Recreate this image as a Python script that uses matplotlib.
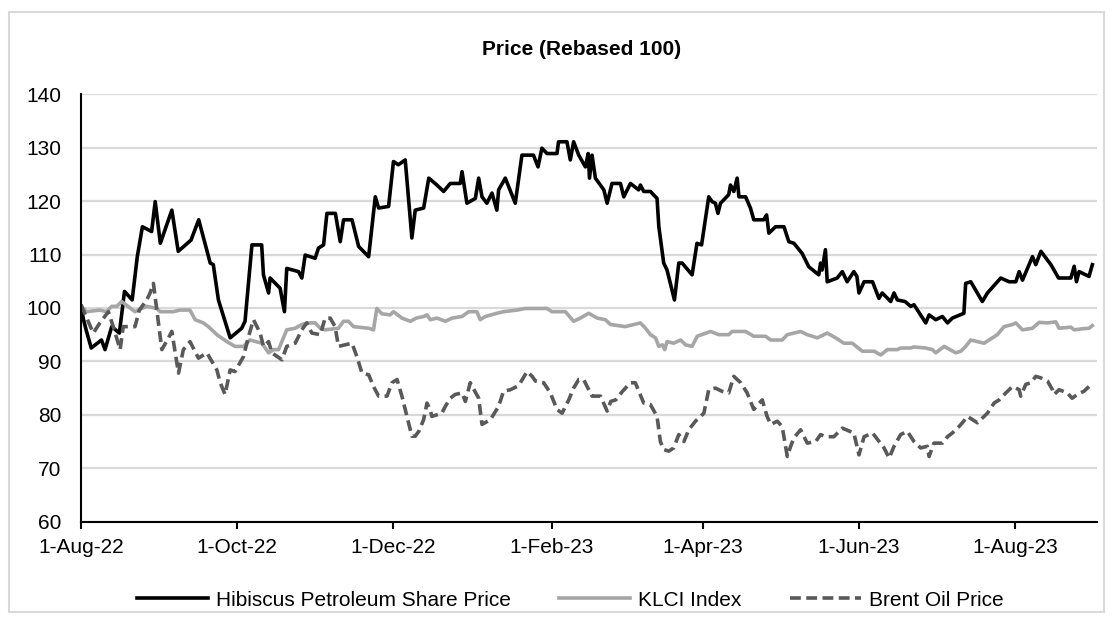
import pandas as pd
import matplotlib.pyplot as plt
import matplotlib.dates as mdates
from matplotlib.patches import Rectangle
from matplotlib.ticker import FuncFormatter

plt.rcParams["font.family"] = ["Liberation Sans", "DejaVu Sans"]

# -----------------------------
# Data (days since 1-Aug-22, rebased price)
# -----------------------------
start = pd.Timestamp("2022-08-01")

hib_days = [0, 1, 2, 4, 8, 9.4, 12, 15, 17, 20, 22, 24, 27.6, 29, 31, 35.5, 38, 43, 46,
            50.5, 51.7, 53.7, 58.3, 62.8, 64.1, 66.8, 70.6, 71.3, 73.3, 73.9, 77.8, 79.5,
            80.4, 85, 86.3, 87.6, 91.5, 92.8, 94.8, 96.1, 99.4, 101.3, 102.6, 105.9, 108.5,
            112.4, 115, 116.3, 120.2, 122.1, 124, 126.7, 129.3, 130.6, 133.9, 135.9, 139.1,
            141.7, 144.3, 148.2, 148.9, 150.8, 154.1, 155.4, 156.7, 158.6, 160.6, 162.5,
            163.2, 165.8, 169.7, 172.3, 176.8, 178.6, 180.1, 182.1, 186, 186.6, 189.9, 191.2,
            192.5, 194.5, 197.1, 198.2, 198.7, 199.7, 201, 204.3, 205.6, 207.5, 210.8, 212.1,
            214.7, 217.9, 218.6, 219.9, 222.5, 225.1, 225.8, 227.7, 229, 231.9, 233.6, 234.9,
            238.8, 240.7, 242.5, 245.3, 246.6, 247.9, 248.9, 249.9, 253.1, 253.8, 255.1,
            256.4, 257.1, 259.7, 261.6, 262.9, 266.8, 267.9, 268.8, 271.4, 274.7, 276.6,
            278.6, 281.8, 284.4, 288.3, 289, 289.6, 290.9, 291.6, 295.5, 297.5, 299.4, 302,
            303.2, 304, 306, 309.3, 311.8, 313.1, 316.4, 317.7, 319, 322, 324.2, 325.5, 330.1,
            331.4, 334, 336.6, 338.6, 340.5, 345, 345.7, 347.7, 352.2, 354.2, 359.4, 362.7,
            365.3, 366.6, 367.9, 370.5, 371.8, 373.1, 375.1, 379, 382, 386.8, 388.1, 389, 390,
            393.9, 395.2]
hib_vals = [100.3, 97.8, 95.9, 92.5, 94.0, 92.2, 96.5, 95.3, 103.1, 101.5, 109.6, 115.2, 114.3,
            119.9, 112.1, 118.3, 110.6, 112.7, 116.5, 108.4, 108.1, 101.5, 94.4, 96.2, 97.5,
            111.8, 111.8, 106.2, 102.8, 105.6, 103.7, 99.3, 107.4, 106.8, 105.6, 109.9, 109.3,
            111.2, 111.8, 117.7, 117.7, 112.4, 116.5, 116.5, 111.5, 109.6, 120.8, 118.7, 119.0,
            127.4, 126.8, 127.7, 113.1, 118.3, 118.7, 124.3, 123.0, 121.8, 123.3, 123.3, 125.5,
            119.6, 120.5, 124.3, 120.8, 119.6, 121.5, 118.3, 122.1, 124.3, 119.6, 128.6, 128.6,
            126.4, 129.9, 128.9, 128.9, 131.1, 131.1, 127.7, 131.1, 128.6, 126.4, 128.9, 124.3,
            128.6, 124.3, 122.1, 119.6, 123.3, 123.3, 120.8, 123.3, 122.1, 123.0, 121.8, 121.8,
            120.5, 115.2, 108.4, 107.1, 101.5, 108.4, 108.4, 106.2, 112.1, 111.8, 120.8, 119.9,
            119.6, 117.7, 119.6, 121.2, 123.0, 121.8, 124.3, 120.8, 120.8, 118.7, 116.5, 116.5,
            117.4, 114.0, 115.2, 115.2, 112.4, 112.1, 110.2, 107.7, 106.2, 108.4, 107.1, 110.9,
            104.9, 105.6, 106.8, 104.9, 106.8, 105.9, 102.8, 104.9, 104.9, 101.8, 102.8, 101.2,
            102.8, 101.5, 101.2, 100.3, 100.6, 97.2, 98.7, 97.8, 98.4, 97.2, 98.1, 99.0, 104.6,
            104.9, 101.2, 102.8, 105.6, 104.9, 104.9, 106.8, 105.2, 108.1, 109.6, 108.1, 110.6,
            108.1, 105.6, 105.6, 107.8, 104.9, 106.8, 105.9, 108.1]

klci_days = [0, 2.2, 7.4, 10, 12, 14, 15.9, 21.1, 23.7, 25.7, 29.6, 30.9, 36.1, 38.7, 42.6,
             44.6, 47.8, 49.8, 53.1, 57, 60.2, 63.5, 66, 70.7, 73.3, 75.2, 77.2, 80.4, 83.7,
             86.3, 88.2, 91.5, 93.5, 95.4, 100.6, 102.6, 104.5, 106.5, 112.4, 114.3, 115.6,
             117.6, 120.8, 122.1, 125.4, 128.7, 131, 133.9, 135.2, 136.5, 139.1, 142.4, 145,
             148.9, 151.5, 154.7, 156, 158, 162.5, 165.1, 170.4, 173.6, 182.1, 184, 189.3,
             192.5, 195.1, 198.4, 201.7, 204.9, 206.9, 212.7, 218.6, 220.6, 222.5, 224.5,
             225.8, 227.2, 228.1, 229, 231.6, 234.3, 236.2, 238.8, 240.8, 246, 249.2, 253.1,
             254.5, 259.7, 262.9, 267.5, 269.5, 274, 276, 278.6, 281.2, 283.8, 287.7, 291.6,
             294.9, 298.1, 301.4, 305.3, 309.9, 312.5, 315.1, 319, 320.3, 324.2, 325.5, 330.1,
             332.7, 334, 337.3, 341.8, 343.8, 345.7, 347.7, 350.3, 352.9, 356.2, 358.1, 360.7,
             364, 365.3, 367.9, 371.8, 374.4, 377.7, 380.9, 382.2, 386.8, 388.1, 391.3, 393.9,
             395.2]
klci_vals = [100.3, 99.3, 99.6, 99.3, 100.3, 100.3, 101.2, 99.3, 99.9, 100.3, 99.9, 99.3, 99.3,
             99.6, 99.6, 97.8, 97.2, 96.5, 95.0, 93.7, 92.8, 92.8, 94.0, 93.4, 91.6, 92.2, 92.2,
             95.9, 96.2, 96.9, 97.2, 97.2, 96.2, 95.9, 96.2, 97.5, 97.5, 96.5, 96.2, 95.9, 99.9,
             98.9, 98.7, 99.3, 98.1, 97.5, 98.1, 98.4, 98.7, 97.8, 98.1, 97.5, 98.1, 98.4, 99.3,
             99.3, 97.8, 98.4, 99.0, 99.3, 99.6, 99.9, 99.9, 99.3, 99.3, 97.5, 98.1, 99.0, 98.1,
             97.8, 96.9, 96.5, 97.2, 96.2, 95.0, 94.4, 92.8, 93.1, 92.2, 93.7, 93.4, 94.0, 93.1,
             92.8, 94.7, 95.6, 95.0, 95.0, 95.6, 95.6, 94.7, 94.7, 94.0, 94.0, 95.0, 95.3, 95.6,
             95.0, 94.4, 95.3, 94.4, 93.4, 93.4, 91.9, 91.9, 91.2, 92.2, 92.2, 92.5, 92.5, 92.7,
             92.5, 92.2, 91.6, 92.8, 91.6, 91.9, 92.8, 94.0, 93.7, 93.4, 94.4, 95.0, 96.5, 96.9,
             97.2, 95.9, 96.2, 97.3, 97.2, 97.4, 96.2, 96.4, 95.9, 96.1, 96.2, 96.7]

brent_days = [0, 0.9, 4.8, 7.4, 10.7, 12.6, 15.3, 16.5, 21.1, 22.8, 25.7, 27, 28.3, 31.6, 34.2,
              35.5, 38.1, 40, 42.6, 45.9, 49.2, 53.1, 54.4, 56.3, 58.3, 60.2, 63.5, 65.5, 67.4,
              70, 71.3, 73.3, 74.6, 78.5, 80.4, 83.7, 86.3, 88.2, 90.2, 93.5, 95.4, 97.4, 99.3,
              100.6, 105.9, 107.8, 109.8, 112.4, 114.3, 116.3, 119.6, 121.5, 123.5, 125.4, 128,
              129.3, 130.6, 132, 133.9, 135.2, 136.5, 137.1, 141, 142.4, 144.3, 146.2, 148.9,
              150.2, 152.1, 155.4, 156.7, 160, 163.2, 165.1, 167.8, 170.4, 171.7, 174.3, 176.3,
              177.6, 180.8, 183.4, 186, 188, 190.6, 192.5, 194.5, 196.4, 199.7, 203, 205.6, 207,
              209, 211.6, 214.7, 216.6, 219.9, 222.5, 225.1, 226.4, 227.7, 229.7, 231.6, 233.6,
              235.6, 237.5, 240.1, 243.4, 245.3, 247.9, 250.5, 253.1, 255.1, 257.8, 260.3,
              262.9, 266.2, 268.1, 269.5, 272.1, 274, 276, 277.3, 278.6, 281.2, 283.8, 287.1,
              289, 291, 294.2, 297.5, 302, 304, 306, 309.3, 313.8, 315.8, 317.7, 320.3, 322.9,
              325.5, 328.1, 330.7, 331.4, 333.3, 336.6, 338.6, 340.5, 343.1, 344.4, 346.4,
              350.3, 354.2, 356.8, 358.8, 361.4, 364, 366.6, 367.2, 369.2, 371.2, 373.1, 375.1,
              377.7, 379.6, 380.3, 382.2, 385.4, 387.3, 389.3, 391.9, 393.9]
brent_vals = [100.6, 99.6, 95.3, 97.2, 99.3, 96.5, 92.2, 96.5, 96.5, 99.6, 101.5, 102.8, 104.6,
              92.2, 94.4, 95.6, 87.8, 92.2, 93.7, 90.6, 91.6, 88.4, 86.0, 83.8, 88.4, 88.1, 90.9,
              94.7, 97.8, 95.3, 92.8, 93.7, 91.6, 90.3, 92.8, 93.4, 95.9, 97.2, 95.3, 95.0, 98.1,
              98.1, 96.5, 92.8, 93.4, 90.9, 87.8, 87.5, 85.3, 83.5, 83.5, 86.0, 86.6, 83.5, 78.5,
              76.0, 76.0, 76.9, 79.1, 82.2, 80.9, 79.7, 80.3, 81.6, 83.1, 83.8, 84.1, 82.5, 86.0,
              83.1, 78.2, 79.1, 81.6, 84.4, 84.7, 85.3, 86.0, 88.1, 87.2, 86.3, 86.0, 84.1, 81.0,
              80.3, 82.8, 85.0, 86.6, 86.6, 83.5, 83.5, 80.7, 82.5, 82.8, 84.4, 86.0, 86.0, 82.2,
              81.9, 79.7, 75.0, 73.5, 73.2, 73.8, 76.3, 75.0, 77.2, 78.8, 80.3, 84.7, 85.0, 84.4,
              84.1, 87.2, 86.0, 84.1, 81.0, 82.8, 79.7, 78.2, 78.8, 77.8, 72.2, 74.1, 75.7, 77.2,
              74.7, 75.0, 76.3, 75.9, 75.9, 77.5, 76.6, 72.5, 75.9, 76.6, 73.8, 71.9, 74.1, 76.3,
              76.9, 75.0, 73.8, 74.1, 72.2, 74.7, 74.7, 75.9, 76.6, 77.8, 78.5, 79.7, 78.5, 80.3,
              82.2, 82.8, 84.1, 85.3, 84.7, 83.5, 85.7, 86.0, 87.2, 86.9, 86.3, 84.7, 83.8, 84.7,
              84.1, 83.1, 83.8, 84.4, 85.3]

series = [
    ("Hibiscus Petroleum Share Price", hib_days, hib_vals, "#000000", "-"),
    ("KLCI Index", klci_days, klci_vals, "#a6a6a6", "-"),
    ("Brent Oil Price", brent_days, brent_vals, "#595959", (0, (3.0, 1.5))),
]

# -----------------------------
# Plot
# -----------------------------
fig = plt.figure(figsize=(11.14, 6.24), dpi=100)
ax = fig.add_axes([0.0727, 0.164, 0.9120, 0.685])

for name, days, vals, color, ls in series:
    dates = start + pd.to_timedelta(days, unit="D")
    ax.plot(dates, vals, color=color, linestyle=ls, linewidth=2.6, label=name)

ax.set_ylim(60, 140)
ax.set_yticks(range(60, 141, 10))
ax.set_xlim(start, start + pd.Timedelta(days=397))
ax.xaxis.set_major_locator(mdates.MonthLocator(bymonth=[2, 4, 6, 8, 10, 12]))
ax.xaxis.set_major_formatter(
    FuncFormatter(lambda x, pos: (lambda d: f"{d.day}-{d.strftime('%b-%y')}")(mdates.num2date(x)))
)

ax.grid(axis="y", color="#d9d9d9", linewidth=1.6)
ax.set_axisbelow(True)
for side in ["top", "right"]:
    ax.spines[side].set_visible(False)
for side in ["left", "bottom"]:
    ax.spines[side].set_linewidth(1.5)
    ax.spines[side].set_color("black")

ax.tick_params(axis="x", direction="out", length=5, width=1.5, pad=7, labelsize=15)
ax.tick_params(axis="y", length=0, pad=14, labelsize=15)

fig.text(0.522, 0.92, "Price (Rebased 100)", ha="center", va="center",
         fontsize=15, fontweight="bold")

fig.legend(loc="center", bbox_to_anchor=(0.512, 0.038), ncol=3, frameon=False,
           fontsize=15, handlelength=3.4, handletextpad=0.4, columnspacing=2.3)

# outer chart border
fig.patches.append(Rectangle((9 / 1114, 1 - 612 / 624), 1095 / 1114, 600 / 624,
                             transform=fig.transFigure, fill=False,
                             edgecolor="#d9d9d9", linewidth=1.5))

plt.savefig("out.png")
plt.close()
